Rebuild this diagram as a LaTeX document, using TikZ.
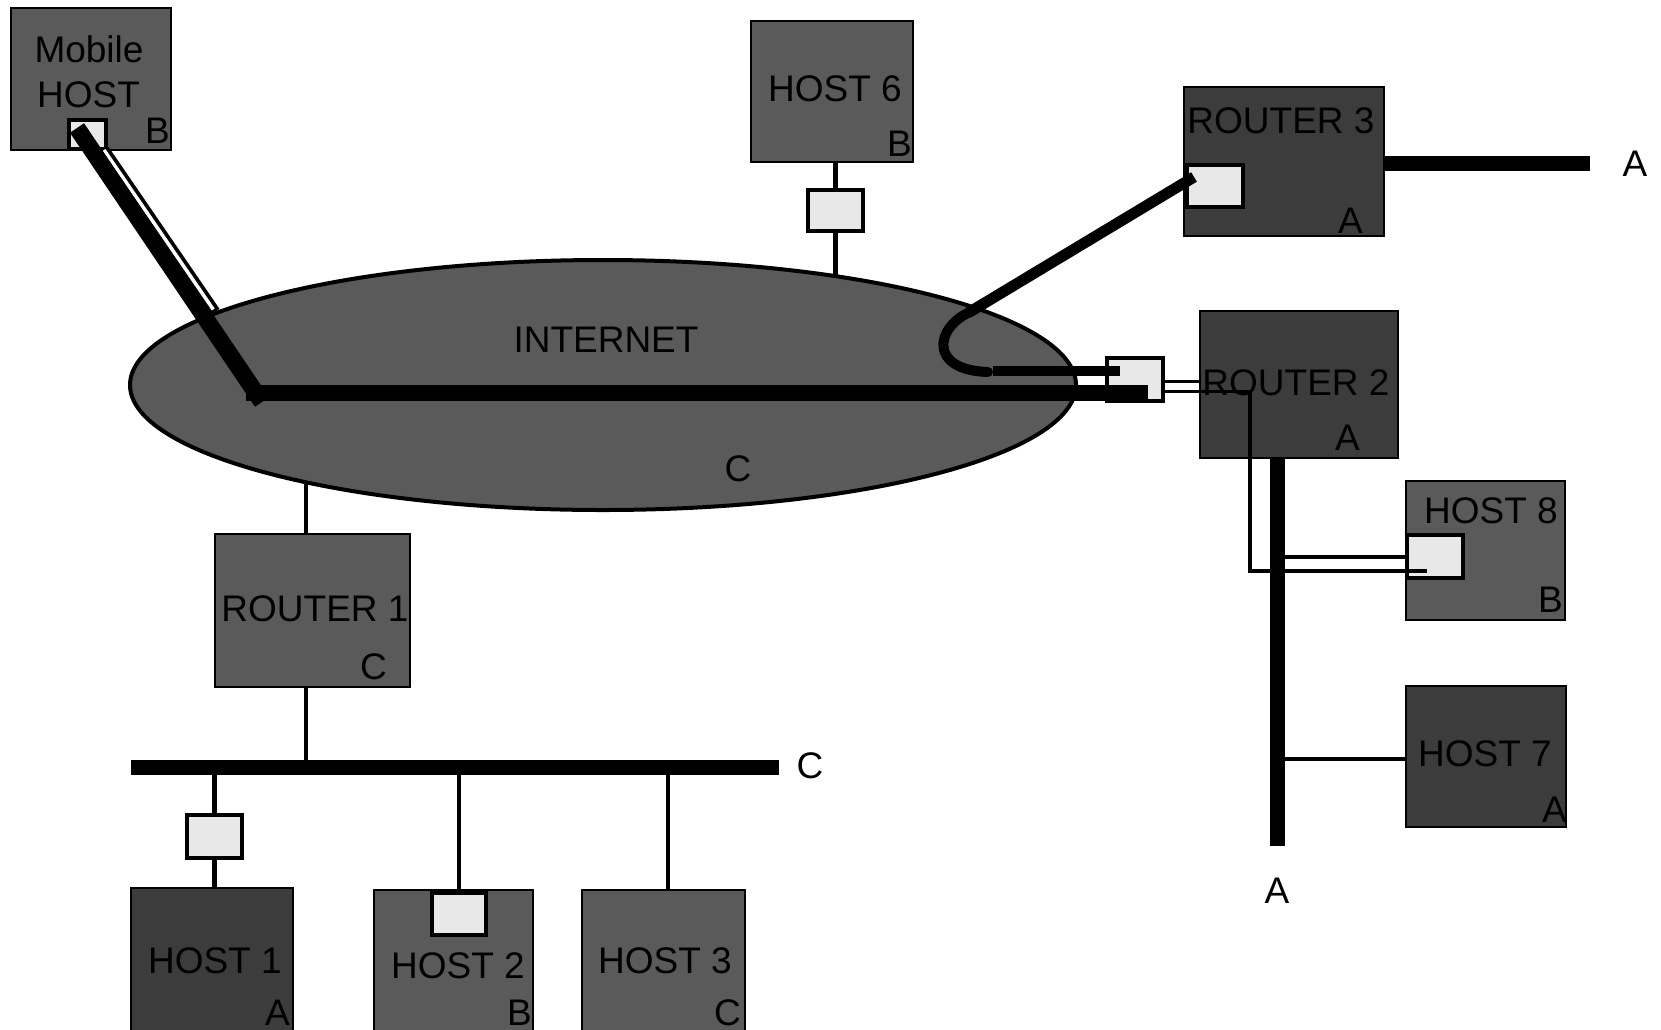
\documentclass[tikz,border=0pt]{standalone}
\usepackage{fontspec}
\setmainfont{Liberation Sans}
\usetikzlibrary{shapes.geometric,calc}
\pgfdeclarelayer{back}
\pgfdeclarelayer{front}
\pgfsetlayers{back,main,front}
\definecolor{midgray}{HTML}{5A5A5A}
\definecolor{deepgray}{HTML}{3C3C3C}
\definecolor{ifgray}{HTML}{E8E8E8}
\begin{document}
\begin{tikzpicture}[x=1pt,y=-1pt,
  boxmid/.style={draw=black, line width=2, fill=midgray, inner sep=0, rectangle},
  boxdark/.style={draw=black, line width=2, fill=deepgray, inner sep=0, rectangle},
  iface/.style={draw=black, line width=4, fill=ifgray, inner sep=0, rectangle},
  lbl/.style={font=\fontsize{37}{44}\selectfont, inner sep=0, anchor=base},
  corner/.style={font=\fontsize{37}{44}\selectfont, inner sep=0, anchor=base east},
  link/.style={line width=4.5},
  bus/.style={line width=15},
  tun/.style={line width=3.5}]
\useasboundingbox (0,0) rectangle (1661,1029);
\clip (0,0) rectangle (1661,1029);

% ---------- internet cloud ----------
\node[ellipse, draw=black, line width=4, fill=midgray, inner sep=0,
      minimum width=946, minimum height=250] (inet) at (603,385) {};
\node[lbl] (tinet) at (606,352) {INTERNET};
\node[lbl] (tinetc) at (738,481) {C};

% ---------- boxes ----------
\node[boxmid, minimum width=160, minimum height=142] (mob) at (91,79) {};
\node[boxmid, minimum width=162, minimum height=141] (h6) at (832,91.5) {};
\node[boxdark, minimum width=200, minimum height=149] (r3) at (1284,161.5) {};
\node[boxdark, minimum width=198, minimum height=147] (r2) at (1299,384.5) {};
\node[boxmid, minimum width=159, minimum height=139] (h8) at (1485.5,550.5) {};
\node[boxdark, minimum width=160, minimum height=141] (h7) at (1486,756.5) {};
\node[boxmid, minimum width=195, minimum height=153] (r1) at (312.5,610.5) {};
\node[boxdark, minimum width=162, minimum height=152] (h1) at (212,964) {};
\node[boxmid, minimum width=159, minimum height=150] (h2) at (453.5,965) {};
\node[boxmid, minimum width=163, minimum height=150] (h3) at (663.5,965) {};

% ---------- interfaces ----------
\node[iface, minimum width=37, minimum height=29] (mif) at (87.5,134.5) {};
\node[iface, minimum width=55, minimum height=41] (h6if) at (835.5,210.5) {};
\node[iface, minimum width=56, minimum height=42] (r3if) at (1215,186) {};
\node[iface, minimum width=56, minimum height=43] (r2if) at (1135,379.5) {};
\node[iface, minimum width=56, minimum height=43] (h8if) at (1435,556.5) {};
\node[iface, minimum width=55, minimum height=43] (h1if) at (214.5,836.5) {};
\node[iface, minimum width=54, minimum height=42] (h2if) at (459,914) {};

% ---------- labels ----------
\node[lbl] (tmob1) at (89,62) {Mobile};
\node[lbl] (tmob2) at (88.5,107) {HOST};
\node[corner] (cmob) at (170,143) {B};
\node[lbl] (th6) at (835,101.5) {HOST 6};
\node[corner] (ch6) at (912,156) {B};
\node[lbl] (tr3) at (1281,133) {ROUTER 3};
\node[corner] (cr3) at (1363,233) {A};
\node[lbl] (tr2) at (1296,395) {ROUTER 2};
\node[corner] (cr2) at (1360,450) {A};
\node[lbl] (th8) at (1491,523) {HOST 8};
\node[corner] (ch8) at (1563,612) {B};
\node[lbl] (th7) at (1485,766) {HOST 7};
\node[corner] (ch7) at (1567,822) {A};
\node[lbl] (tr1) at (315,621) {ROUTER 1};
\node[corner] (cr1) at (387,679) {C};
\node[lbl] (th1) at (215,973) {HOST 1};
\node[corner] (ch1) at (290,1025) {A};
\node[lbl] (th2) at (458,978) {HOST 2};
\node[corner] (ch2) at (532,1025) {B};
\node[lbl] (th3) at (665,973) {HOST 3};
\node[corner] (ch3) at (741,1025) {C};
\node[lbl] (tbusc) at (810,778) {C};
\node[lbl] (tr3a) at (1635,176) {A};
\node[lbl] (tbusa) at (1277,903) {A};

% ---------- coordinates ----------
\coordinate (cL) at (131,767);
\coordinate (cR) at (779,767);
\coordinate (r1x) at (306,610);
\coordinate (h3x) at (668,900);
\coordinate (aB) at (1277,846);
\coordinate (h7y) at (1400,759);
\coordinate (r3e) at (1590,163.5);
\coordinate (mt0) at (77,128);
\coordinate (mtE) at (262,402);
\coordinate (mt1) at (104,150);
\coordinate (mt2) at (215,312);
\coordinate (iL) at (246,393);
\coordinate (iR) at (1148,393);
\coordinate (k0) at (1194,177);
\coordinate (k1) at (968,313);
\coordinate (k2) at (988,372);
\coordinate (k3) at (993,371);
\coordinate (k4) at (1120,371);
\coordinate (u1) at (1165,381.5);
\coordinate (l1) at (1165,391.5);
\coordinate (l2) at (1250,391.5);
\coordinate (l3) at (1250,571);
\coordinate (l4) at (1427,571);
\coordinate (u3) at (1285,557);

% ---------- plain links (behind) ----------
\begin{pgfonlayer}{back}
\draw[link] (h6if.center) -- (h6if.center |- h6.center);
\draw[link] (h6if.center) -- (h6if.center |- inet.center);
\draw[link] (r1x |- inet.center) -- (r1x |- cL);
\draw[bus] (cL) -- (cR);
\draw[link] (h1if.center |- cL) -- (h1if.center) -- (h1if.center |- h1.center);
\draw[link] (h2if.center |- cL) -- (h2if.center);
\draw[link] (h3x |- cL) -- (h3x |- h3.center);
\draw[link] (aB |- h7y) -- (h7y -| h7.center);
\draw[bus] (r3e) -- (r3e -| r3.center);
\end{pgfonlayer}

% ---------- paths over the cloud ----------
\begin{pgfonlayer}{front}
% mobile tunnel
\draw[line width=11] (mt1) -- (mt2);
\draw[white, line width=3.5, shorten >=3] (mt1) -- (mt2);
\draw[line width=17] (mt0) -- (mtE);
% internet backbone
\draw[line width=16] (iL) -- (iR);
% router 3 link
\draw[line width=11] (k0) -- (k1);
\draw[line width=10, line cap=round] (k1) .. controls (936,328) and (928,370) .. (k2);
\draw[line width=10] (k3) -- (k4);
% tunnel via router 2
\draw[tun] (r2if.east |- u1) -- (r2.west |- u1);
\draw[tun] (r2if.east |- l1) -- (l2) -- (l3) -- (l4);
\draw[tun] (u3) -- (h8if.west |- u3);
% bus A
\draw[bus] (r2.south -| aB) -- (aB);
\end{pgfonlayer}
\end{tikzpicture}
\end{document}
